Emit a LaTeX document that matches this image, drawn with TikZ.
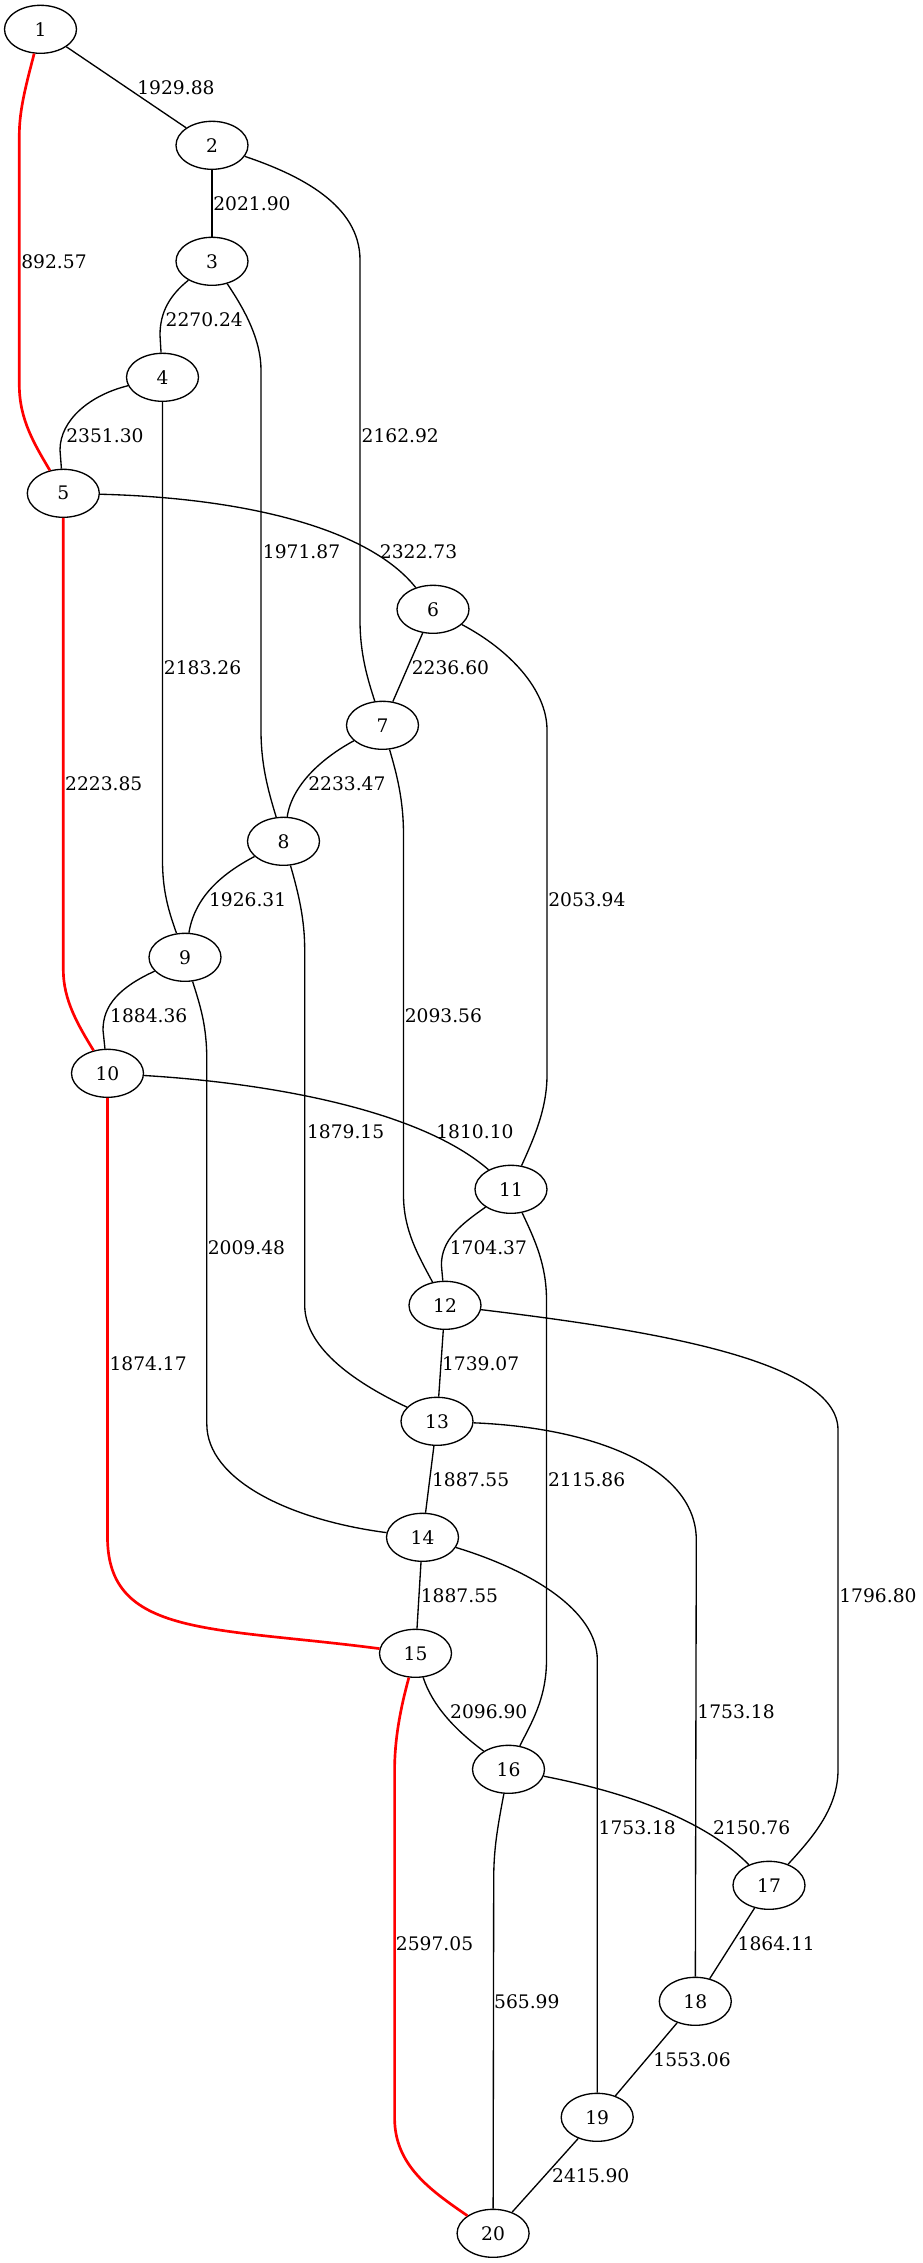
\documentclass[tikz,border=0pt]{standalone}
\usepackage{fontspec}
\setmainfont{DejaVu Serif}
\usetikzlibrary{shapes.geometric}

\tikzset{every picture/.style={line width=1pt}}

\begin{document}
\begin{tikzpicture}[x=0.75pt,y=0.75pt,yscale=-1,xscale=1,
  city/.style={draw, ellipse, minimum width=54pt, minimum height=36pt, inner sep=0pt, font=\fontsize{14}{17}\selectfont},
  road/.style={draw=black, line width=1pt},
  best/.style={draw=red, line width=2pt},
  cost/.style={anchor=west, inner sep=0pt, font=\fontsize{14}{17}\selectfont}]
\path[use as bounding box] (0,0) rectangle (923,2263);

%Shape: Ellipse
\node[city] (n1) at (40.5,29.3) {1};
\node[city] (n2) at (212,145.3) {2};
\node[city] (n3) at (212,261.3) {3};
\node[city] (n4) at (162.5,377.3) {4};
\node[city] (n5) at (63.3,493.3) {5};
\node[city] (n6) at (433,609.3) {6};
\node[city] (n7) at (382.5,725.3) {7};
\node[city] (n8) at (283.5,841.3) {8};
\node[city] (n9) at (185,957.3) {9};
\node[city] (n10) at (107.5,1073.3) {10};
\node[city] (n11) at (511,1189.3) {11};
\node[city] (n12) at (445,1305.3) {12};
\node[city] (n13) at (437,1421.3) {13};
\node[city] (n14) at (422.5,1537.3) {14};
\node[city] (n15) at (415.5,1653.3) {15};
\node[city] (n16) at (508.5,1769.3) {16};
\node[city] (n17) at (769,1885.3) {17};
\node[city] (n18) at (695.3,2001.3) {18};
\node[city] (n19) at (597.2,2117.3) {19};
\node[city] (n20) at (493.1,2233.3) {20};

%Straight Lines
\draw[road] (n1) -- (n2);
\draw[road] (n2) -- (n3);
\draw[road] (n6) -- (n7);
\draw[road] (n12) -- (n13);
\draw[road] (n13) -- (n14);
\draw[road] (n14) -- (n15);
\draw[road] (n17) -- (n18);
\draw[road] (n18) -- (n19);
\draw[road] (n19) -- (n20);

%Curve Lines
\draw[road] (n2) .. controls (300,175) and (360,205) .. (360,260) -- (360,620) .. controls (360,655) and (368,680) .. (n7);
\draw[road] (n3) .. controls (170,295) and (160,312) .. (160,335) -- (n4);
\draw[road] (n3) .. controls (245,310) and (261,340) .. (261,370) -- (261,730) .. controls (261,765) and (268,790) .. (n8);
\draw[road] (n4) .. controls (90,395) and (60,420) .. (60,450) -- (n5);
\draw[road] (n4) -- (162.5,860) .. controls (162.5,892) and (169,912) .. (n9);
\draw[road] (n5) .. controls (250,498) and (370,530) .. (n6);
\draw[road] (n6) .. controls (510,650) and (547,690) .. (547,730) -- (547,1075) .. controls (547,1110) and (533,1140) .. (n11);
\draw[road] (n7) .. controls (322,758) and (292,785) .. (n8);
\draw[road] (n7) .. controls (397,775) and (403.5,800) .. (403.5,835) -- (403.5,1195) .. controls (403.5,1230) and (418,1255) .. (n12);
\draw[road] (n8) .. controls (225,872) and (195,895) .. (n9);
\draw[road] (n8) .. controls (299,895) and (304.7,920) .. (304.7,950) -- (304.7,1305) .. controls (304.7,1350) and (360,1385) .. (n13);
\draw[road] (n9) .. controls (120,987) and (103,1005) .. (103,1030) -- (n10);
\draw[road] (n9) .. controls (200,1005) and (206.8,1025) .. (206.8,1060) -- (206.8,1424) .. controls (206.8,1480) and (290,1520) .. (n14);
\draw[road] (n10) .. controls (270,1083) and (420,1110) .. (n11);
\draw[road] (n11) .. controls (460,1225) and (441.4,1240) .. (441.4,1265) -- (n12);
\draw[road] (n11) .. controls (535,1240) and (546.5,1265) .. (546.5,1300) -- (546.5,1660) .. controls (546.5,1700) and (530,1725) .. (n16);
\draw[road] (n12) .. controls (650,1330) and (838,1360) .. (838,1430) -- (838,1770) .. controls (838,1810) and (810,1840) .. (n17);
\draw[road] (n13) .. controls (600,1428) and (696.3,1470) .. (696.3,1540) -- (n18);
\draw[road] (n14) .. controls (530,1570) and (597.3,1610) .. (597.3,1660) -- (n19);
\draw[road] (n15) .. controls (432,1705) and (455,1730) .. (n16);
\draw[road] (n16) .. controls (640,1795) and (710,1825) .. (n17);
\draw[road] (n16) .. controls (497,1830) and (493.7,1850) .. (493.7,1880) -- (n20);

%Best Route
\draw[best] (n1) .. controls (26,85) and (19.3,110) .. (19.3,135) -- (19.3,385) .. controls (19.3,420) and (35,445) .. (n5);
\draw[best] (n5) -- (63.3,970) .. controls (63.3,1000) and (78,1025) .. (n10);
\draw[best] (n10) -- (107.5,1537) .. controls (107.5,1637) and (211,1626.6) .. (n15);
\draw[best] (n15) .. controls (400,1710) and (394.6,1740) .. (394.6,1770) -- (394.6,2118) .. controls (394.6,2165) and (430,2190) .. (n20);

% Text Node
\node[cost] (c1-2) at (136.7,87.3) {1929.88};
\node[cost] (c1-5) at (20.7,261.3) {892.57};
\node[cost] (c2-3) at (212.7,203.3) {2021.90};
\node[cost] (c3-4) at (165,319.3) {2270.24};
\node[cost] (c4-5) at (65.7,435.3) {2351.30};
\node[cost] (c2-7) at (361,435.3) {2162.92};
\node[cost] (c3-8) at (262.3,551.3) {1971.87};
\node[cost] (c5-6) at (379.3,551.3) {2322.73};
\node[cost] (c4-9) at (163.3,667.3) {2183.26};
\node[cost] (c6-7) at (411.2,667.3) {2236.60};
\node[cost] (c5-10) at (64.5,783.3) {2223.85};
\node[cost] (c7-8) at (307.6,783.3) {2233.47};
\node[cost] (c6-11) at (547.6,899.3) {2053.94};
\node[cost] (c8-9) at (208.4,899.3) {1926.31};
\node[cost] (c9-10) at (109.5,1015.3) {1884.36};
\node[cost] (c7-12) at (404.1,1015.3) {2093.56};
\node[cost] (c8-13) at (306.4,1131.3) {1879.15};
\node[cost] (c10-11) at (435.7,1131.3) {1810.10};
\node[cost] (c9-14) at (207.2,1247.3) {2009.48};
\node[cost] (c11-12) at (449.1,1247.3) {1704.37};
\node[cost] (c10-15) at (108.9,1363.3) {1874.17};
\node[cost] (c12-13) at (441.4,1363.3) {1739.07};
\node[cost] (c13-14) at (431.4,1479.3) {1887.55};
\node[cost] (c11-16) at (547.4,1479.3) {2115.86};
\node[cost] (c14-15) at (420.2,1595.3) {1887.55};
\node[cost] (c12-17) at (838.7,1595.3) {1796.80};
\node[cost] (c15-16) at (449.5,1711.3) {2096.90};
\node[cost] (c13-18) at (696.8,1711.3) {1753.18};
\node[cost] (c14-19) at (598,1827.3) {1753.18};
\node[cost] (c16-17) at (712.4,1827.3) {2150.76};
\node[cost] (c15-20) at (395.3,1943.3) {2597.05};
\node[cost] (c17-18) at (737,1943.3) {1864.11};
\node[cost] (c16-20) at (493.5,2001.3) {565.99};
\node[cost] (c18-19) at (652.8,2059.3) {1553.06};
\node[cost] (c19-20) at (551.5,2175.3) {2415.90};

\end{tikzpicture}
\end{document}
